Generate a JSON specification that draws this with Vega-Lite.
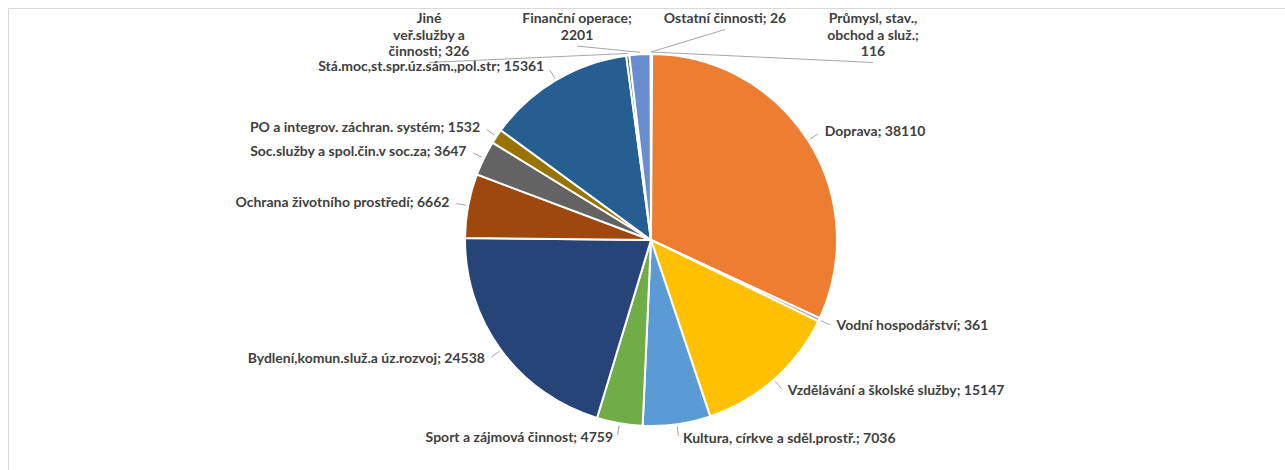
{
  "$schema": "https://vega.github.io/schema/vega-lite/v6.json",
  "width": 1286,
  "height": 464,
  "autosize": {"type": "none"},
  "padding": {"left": 8, "top": 8, "right": 0, "bottom": 0},
  "background": "white",
  "config": {
    "view": {"stroke": "#D9D9D9", "strokeWidth": 1},
    "text": {"font": "Lato", "fontWeight": "bold", "fontSize": 14, "color": "#404040"}
  },
  "data": {
    "values": [
      {"sektor": "Průmysl, stav., obchod a služ.", "popisek": "Průmysl, stav.,\nobchod a služ.;\n116", "hodnota": 116},
      {"sektor": "Doprava", "popisek": "Doprava; 38110", "hodnota": 38110},
      {"sektor": "Vodní hospodářství", "popisek": "Vodní hospodářství; 361", "hodnota": 361},
      {"sektor": "Vzdělávání a školské služby", "popisek": "Vzdělávání a školské služby; 15147", "hodnota": 15147},
      {"sektor": "Kultura, církve a sděl.prostř.", "popisek": "Kultura, církve a sděl.prostř.; 7036", "hodnota": 7036},
      {"sektor": "Sport a zájmová činnost", "popisek": "Sport a zájmová činnost; 4759", "hodnota": 4759},
      {"sektor": "Bydlení,komun.služ.a úz.rozvoj", "popisek": "Bydlení,komun.služ.a úz.rozvoj; 24538", "hodnota": 24538},
      {"sektor": "Ochrana životního prostředí", "popisek": "Ochrana životního prostředí; 6662", "hodnota": 6662},
      {"sektor": "Soc.služby a spol.čin.v soc.za", "popisek": "Soc.služby a spol.čin.v soc.za; 3647", "hodnota": 3647},
      {"sektor": "PO a integrov. záchran. systém", "popisek": "PO a integrov. záchran. systém; 1532", "hodnota": 1532},
      {"sektor": "Stá.moc,st.spr.úz.sám.,pol.str", "popisek": "Stá.moc,st.spr.úz.sám.,pol.str; 15361", "hodnota": 15361},
      {"sektor": "Jiné veř.služby a činnosti", "popisek": "Jiné\nveř.služby a\nčinnosti; 326", "hodnota": 326},
      {"sektor": "Finanční operace", "popisek": "Finanční operace;\n2201", "hodnota": 2201},
      {"sektor": "Ostatní činnosti", "popisek": "Ostatní činnosti; 26", "hodnota": 26}
    ]
  },
  "transform": [
    {"window": [{"op": "row_number", "as": "idx"}]},
    {"joinaggregate": [{"op": "sum", "field": "hodnota", "as": "total"}]},
    {"window": [{"op": "sum", "field": "hodnota", "as": "cum"}], "sort": [{"field": "idx"}], "frame": [null, 0]},
    {"calculate": "(datum.cum - datum.hodnota / 2) / datum.total * 2 * PI", "as": "a"},
    {"calculate": "datum.a > PI ? datum.a - 2 * PI : datum.a", "as": "sa"},
    {"calculate": "abs(datum.sa) < 0.26 ? 'band' : (datum.sa < 0 ? 'left' : 'right')", "as": "side"},
    {"window": [{"op": "row_number", "as": "k"}, {"op": "count", "as": "n"}], "groupby": ["side"], "sort": [{"field": "sa"}], "frame": [null, null]},
    {"calculate": "length(split(datum.popisek, '\\n'))", "as": "lines"},
    {"calculate": "datum.side == 'band' ? (datum.k - 1 - (datum.n - 1) / 2) * 148 : 201 * sin(datum.a)", "as": "lx"},
    {"calculate": "datum.side == 'band' ? 228 : 201 * cos(datum.a)", "as": "ly"},
    {"calculate": "188 * sin(datum.a)", "as": "px"},
    {"calculate": "188 * cos(datum.a)", "as": "py"},
    {"calculate": "datum.side == 'band' ? datum.lx : 198 * sin(datum.a)", "as": "qx"},
    {"calculate": "datum.side == 'band' ? 228 - datum.lines * 16.5 - 1 : 198 * cos(datum.a)", "as": "qy"}
  ],
  "layer": [
    {
      "mark": {"type": "arc", "outerRadius": 186, "stroke": "white", "strokeWidth": 2},
      "encoding": {
        "theta": {"field": "hodnota", "type": "quantitative", "stack": true},
        "order": {"field": "idx", "type": "quantitative"},
        "color": {
          "field": "sektor",
          "type": "nominal",
          "legend": null,
          "scale": {
            "domain": ["Průmysl, stav., obchod a služ.", "Doprava", "Vodní hospodářství", "Vzdělávání a školské služby", "Kultura, církve a sděl.prostř.", "Sport a zájmová činnost", "Bydlení,komun.služ.a úz.rozvoj", "Ochrana životního prostředí", "Soc.služby a spol.čin.v soc.za", "PO a integrov. záchran. systém", "Stá.moc,st.spr.úz.sám.,pol.str", "Jiné veř.služby a činnosti", "Finanční operace", "Ostatní činnosti"],
            "range": ["#4472C4", "#ED7D31", "#A5A5A5", "#FFC000", "#5B9BD5", "#70AD47", "#264478", "#9E480E", "#636363", "#997300", "#255E91", "#43682B", "#698ED0", "#F1975A"]
          }
        }
      }
    },
    {
      "mark": {"type": "rule", "color": "#A6A6A6", "strokeWidth": 1},
      "encoding": {
        "x": {"field": "px", "type": "quantitative", "scale": {"domain": [-643, 643], "nice": false, "zero": false}, "axis": null},
        "y": {"field": "py", "type": "quantitative", "scale": {"domain": [-232, 232], "nice": false, "zero": false}, "axis": null},
        "x2": {"field": "qx"},
        "y2": {"field": "qy"}
      }
    },
    {
      "transform": [{"filter": "datum.side == 'left'"}],
      "mark": {"type": "text", "align": "right", "baseline": "middle", "dx": -4, "lineBreak": "\n"},
      "encoding": {
        "x": {"field": "lx", "type": "quantitative", "scale": {"domain": [-643, 643], "nice": false, "zero": false}, "axis": null},
        "y": {"field": "ly", "type": "quantitative", "scale": {"domain": [-232, 232], "nice": false, "zero": false}, "axis": null},
        "text": {"field": "popisek"}
      }
    },
    {
      "transform": [{"filter": "datum.side == 'right'"}],
      "mark": {"type": "text", "align": "left", "baseline": "middle", "dx": 4, "lineBreak": "\n"},
      "encoding": {
        "x": {"field": "lx", "type": "quantitative", "scale": {"domain": [-643, 643], "nice": false, "zero": false}, "axis": null},
        "y": {"field": "ly", "type": "quantitative", "scale": {"domain": [-232, 232], "nice": false, "zero": false}, "axis": null},
        "text": {"field": "popisek"}
      }
    },
    {
      "transform": [{"filter": "datum.side == 'band'"}],
      "mark": {"type": "text", "align": "center", "baseline": "top", "lineHeight": 16.5, "lineBreak": "\n"},
      "encoding": {
        "x": {"field": "lx", "type": "quantitative", "scale": {"domain": [-643, 643], "nice": false, "zero": false}, "axis": null},
        "y": {"field": "ly", "type": "quantitative", "scale": {"domain": [-232, 232], "nice": false, "zero": false}, "axis": null},
        "text": {"field": "popisek"}
      }
    }
  ]
}
